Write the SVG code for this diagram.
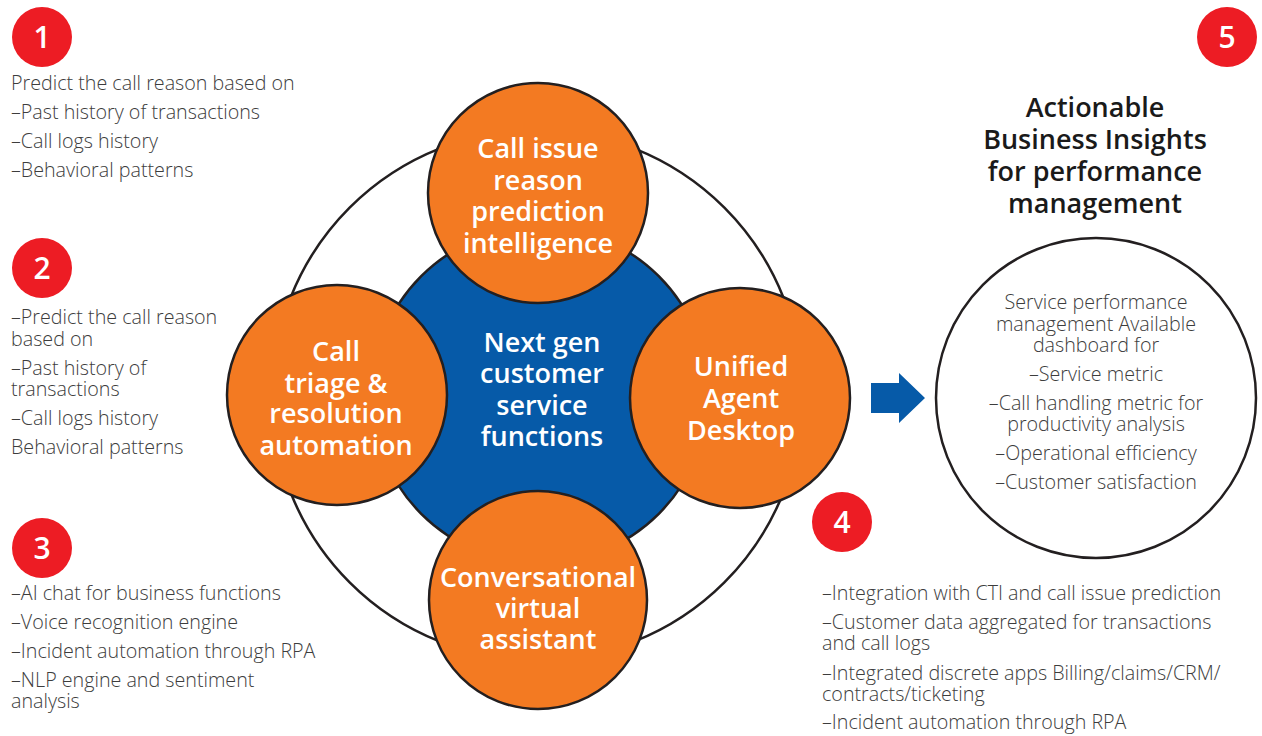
<svg xmlns="http://www.w3.org/2000/svg" width="1262" height="736" viewBox="0 0 1262 736">
<style>
.ring{fill:none;stroke:#231f20;stroke-width:2.5}
.blue{fill:#065aa8;stroke:#231f20;stroke-width:2.5}
.org{fill:#f37a22;stroke:#231f20;stroke-width:2.5}
.badge{fill:#ed1c24}
.num{fill:#fff;font-family:"Open Sans","Noto Sans",sans-serif;font-size:30px;font-weight:600;text-anchor:middle}
.nt{fill:#fff;font-family:"Open Sans","Noto Sans",sans-serif;font-size:27px;font-weight:600;text-anchor:middle}
.body{fill:#3d3d3d;font-family:"Open Sans","Noto Sans",sans-serif;font-size:19.7px;font-weight:300}
.mid{text-anchor:middle}
.title{fill:#1a1a1a;font-family:"Open Sans","Noto Sans",sans-serif;font-size:27px;font-weight:600;text-anchor:middle}
.arrow{fill:#065aa8}
</style>
<rect width="1262" height="736" fill="#fff"/>
<g id="connectors">
<circle class="ring" cx="537" cy="395" r="265"/>
<polygon class="arrow" points="871,383 899,383 899,373 925,398 899,423 899,413 871,413"/>
</g>
<g id="center">
<circle class="blue" cx="540" cy="395" r="168"/>
<text class="nt" x="542" y="352">Next gen</text>
<text class="nt" x="542" y="383">customer</text>
<text class="nt" x="542" y="415">service</text>
<text class="nt" x="542" y="446">functions</text>
</g>
<g id="node-top">
<circle class="org" cx="538" cy="193" r="110"/>
<text class="nt" x="538" y="158">Call issue</text>
<text class="nt" x="538" y="190">reason</text>
<text class="nt" x="538" y="221">prediction</text>
<text class="nt" x="538" y="253">intelligence</text>
</g>
<g id="node-left">
<circle class="org" cx="337" cy="395" r="110"/>
<text class="nt" x="336" y="361">Call</text>
<text class="nt" x="336" y="393">triage &amp;</text>
<text class="nt" x="336" y="423">resolution</text>
<text class="nt" x="336" y="455">automation</text>
</g>
<g id="node-right">
<circle class="org" cx="740" cy="398" r="110"/>
<text class="nt" x="741" y="376">Unified</text>
<text class="nt" x="741" y="408">Agent</text>
<text class="nt" x="741" y="440">Desktop</text>
</g>
<g id="node-bottom">
<circle class="org" cx="538" cy="600" r="109"/>
<text class="nt" x="538" y="587">Conversational</text>
<text class="nt" x="538" y="618">virtual</text>
<text class="nt" x="538" y="649">assistant</text>
</g>
<g id="insights">
<text class="title" x="1095" y="117">Actionable</text>
<text class="title" x="1095" y="149">Business Insights</text>
<text class="title" x="1095" y="181">for performance</text>
<text class="title" x="1095" y="213">management</text>
<circle class="ring" cx="1096" cy="398" r="160"/>
<text class="body mid" x="1096" y="309">Service performance</text>
<text class="body mid" x="1096" y="331">management Available</text>
<text class="body mid" x="1096" y="352">dashboard for</text>
<text class="body mid" x="1096" y="381">–Service metric</text>
<text class="body mid" x="1096" y="410">–Call handling metric for</text>
<text class="body mid" x="1096" y="431">productivity analysis</text>
<text class="body mid" x="1096" y="460">–Operational efficiency</text>
<text class="body mid" x="1096" y="489">–Customer satisfaction</text>
</g>
<g id="badge-1">
<circle class="badge" cx="42" cy="37" r="30"/>
<text class="num" x="42" y="48">1</text>
<text class="body" x="11" y="90">Predict the call reason based on</text>
<text class="body" x="11" y="119">–Past history of transactions</text>
<text class="body" x="11" y="148">–Call logs history</text>
<text class="body" x="11" y="177">–Behavioral patterns</text>
</g>
<g id="badge-2">
<circle class="badge" cx="42" cy="268" r="30"/>
<text class="num" x="42" y="279">2</text>
<text class="body" x="11" y="324">–Predict the call reason</text>
<text class="body" x="11" y="346">based on</text>
<text class="body" x="11" y="375">–Past history of</text>
<text class="body" x="11" y="396">transactions</text>
<text class="body" x="11" y="425">–Call logs history</text>
<text class="body" x="11" y="454">Behavioral patterns</text>
</g>
<g id="badge-3">
<circle class="badge" cx="42" cy="548" r="30"/>
<text class="num" x="42" y="559">3</text>
<text class="body" x="11" y="600">–AI chat for business functions</text>
<text class="body" x="11" y="629">–Voice recognition engine</text>
<text class="body" x="11" y="658">–Incident automation through RPA</text>
<text class="body" x="11" y="687">–NLP engine and sentiment</text>
<text class="body" x="11" y="708">analysis</text>
</g>
<g id="badge-4">
<circle class="badge" cx="842" cy="522" r="30"/>
<text class="num" x="842" y="533">4</text>
<text class="body" x="822" y="600">–Integration with CTI and call issue prediction</text>
<text class="body" x="822" y="629">–Customer data aggregated for transactions</text>
<text class="body" x="822" y="650">and call logs</text>
<text class="body" x="822" y="680">–Integrated discrete apps Billing/claims/CRM/</text>
<text class="body" x="822" y="701">contracts/ticketing</text>
<text class="body" x="822" y="729">–Incident automation through RPA</text>
</g>
<g id="badge-5">
<circle class="badge" cx="1227" cy="37" r="30"/>
<text class="num" x="1227" y="48">5</text>
</g>
</svg>
